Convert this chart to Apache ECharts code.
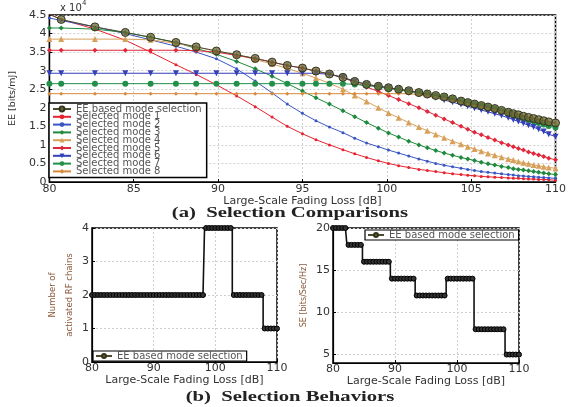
<!DOCTYPE html>
<html><head><meta charset="utf-8">
<script src="https://cdn.jsdelivr.net/npm/echarts@6/dist/echarts.min.js"></script>
<style>html,body{margin:0;padding:0;background:#fff}#c{width:569px;height:407px}</style>
</head><body><div id="c"></div>
<script>
// ---- Data (a) Selection Comparisons: EE [x10^4 bits/mJ] vs Large-Scale Fading Loss [dB]
const lossA = [80, 80.7, 82.7, 84.5, 86.0, 87.5, 88.7, 89.9, 91.1, 92.2, 93.2, 94.1, 95.0, 95.8, 96.6, 97.4, 98.1, 98.8, 99.5, 100.1, 100.7, 101.3, 101.9, 102.4, 102.9, 103.4, 103.9, 104.4, 104.8, 105.2, 105.6, 106.0, 106.4, 106.8, 107.2, 107.5, 107.8, 108.1, 108.4, 108.7, 109.0, 109.3, 109.6, 110.0];
const eeSel = [4.52, 4.38, 4.18, 4.03, 3.9, 3.76, 3.64, 3.53, 3.43, 3.33, 3.23, 3.14, 3.07, 2.99, 2.91, 2.82, 2.71, 2.63, 2.58, 2.54, 2.5, 2.46, 2.41, 2.37, 2.33, 2.29, 2.24, 2.18, 2.14, 2.1, 2.06, 2.02, 1.98, 1.93, 1.88, 1.84, 1.81, 1.77, 1.74, 1.71, 1.68, 1.65, 1.62, 1.59];
const mode1 = [4.52, 4.38, 4.12, 3.82, 3.5, 3.16, 2.9, 2.62, 2.32, 2.03, 1.75, 1.5, 1.3, 1.14, 1.0, 0.87, 0.76, 0.66, 0.57, 0.5, 0.44, 0.39, 0.34, 0.31, 0.28, 0.25, 0.22, 0.2, 0.18, 0.17, 0.15, 0.14, 0.13, 0.12, 0.11, 0.1, 0.1, 0.09, 0.08, 0.08, 0.07, 0.07, 0.06, 0.05];
const mode2 = [4.42, 4.35, 4.18, 4.0, 3.83, 3.66, 3.5, 3.32, 3.05, 2.72, 2.4, 2.1, 1.85, 1.65, 1.48, 1.33, 1.18, 1.05, 0.95, 0.86, 0.78, 0.7, 0.62, 0.56, 0.5, 0.45, 0.41, 0.37, 0.34, 0.31, 0.28, 0.26, 0.24, 0.22, 0.2, 0.19, 0.17, 0.16, 0.15, 0.14, 0.13, 0.12, 0.11, 0.1];
const mode3 = [4.15, 4.15, 4.12, 4.03, 3.9, 3.76, 3.6, 3.44, 3.25, 3.05, 2.85, 2.65, 2.45, 2.27, 2.1, 1.92, 1.76, 1.6, 1.45, 1.32, 1.21, 1.1, 1.0, 0.92, 0.85, 0.78, 0.72, 0.66, 0.62, 0.58, 0.53, 0.49, 0.46, 0.42, 0.39, 0.36, 0.34, 0.32, 0.3, 0.28, 0.26, 0.24, 0.22, 0.2];
const mode4 = [3.85, 3.85, 3.85, 3.85, 3.83, 3.74, 3.64, 3.53, 3.43, 3.3, 3.18, 3.06, 2.93, 2.8, 2.66, 2.5, 2.33, 2.17, 2.0, 1.86, 1.73, 1.6, 1.48, 1.38, 1.28, 1.19, 1.1, 1.02, 0.95, 0.89, 0.83, 0.77, 0.72, 0.67, 0.62, 0.59, 0.55, 0.52, 0.49, 0.46, 0.44, 0.41, 0.39, 0.37];
const mode5 = [3.55, 3.55, 3.55, 3.55, 3.55, 3.55, 3.54, 3.5, 3.41, 3.33, 3.23, 3.14, 3.07, 2.99, 2.91, 2.81, 2.69, 2.56, 2.44, 2.33, 2.22, 2.11, 2.0, 1.9, 1.8, 1.7, 1.6, 1.5, 1.42, 1.34, 1.27, 1.2, 1.13, 1.06, 1.0, 0.95, 0.9, 0.86, 0.81, 0.77, 0.73, 0.69, 0.64, 0.6];
const mode6 = [2.93, 2.93, 2.93, 2.93, 2.93, 2.93, 2.93, 2.93, 2.93, 2.93, 2.93, 2.93, 2.93, 2.93, 2.9, 2.82, 2.71, 2.63, 2.58, 2.54, 2.5, 2.46, 2.39, 2.33, 2.27, 2.21, 2.15, 2.09, 2.04, 1.99, 1.94, 1.89, 1.84, 1.79, 1.73, 1.68, 1.63, 1.58, 1.53, 1.48, 1.42, 1.36, 1.29, 1.22];
const mode7 = [2.65, 2.65, 2.65, 2.65, 2.65, 2.65, 2.65, 2.65, 2.65, 2.65, 2.65, 2.65, 2.65, 2.65, 2.65, 2.65, 2.63, 2.6, 2.56, 2.52, 2.48, 2.44, 2.41, 2.37, 2.33, 2.29, 2.24, 2.18, 2.14, 2.1, 2.06, 2.02, 1.98, 1.93, 1.88, 1.83, 1.78, 1.73, 1.68, 1.64, 1.59, 1.55, 1.51, 1.47];
const mode8 = [2.38, 2.38, 2.38, 2.38, 2.38, 2.38, 2.38, 2.38, 2.38, 2.38, 2.38, 2.38, 2.38, 2.38, 2.38, 2.38, 2.38, 2.38, 2.38, 2.38, 2.38, 2.38, 2.35, 2.32, 2.28, 2.24, 2.19, 2.14, 2.1, 2.06, 2.02, 1.98, 1.94, 1.9, 1.87, 1.84, 1.81, 1.77, 1.74, 1.71, 1.68, 1.65, 1.62, 1.59];
const eeTicks = [0, 0.5, 1, 1.5, 2, 2.5, 3, 3.5, 4, 4.5];

// ---- Data (b) Selection Behaviors
const lossB = [80, 80.5, 81, 81.5, 82, 82.5, 83, 83.5, 84, 84.5, 85, 85.5, 86, 86.5, 87, 87.5, 88, 88.5, 89, 89.5, 90, 90.5, 91, 91.5, 92, 92.5, 93, 93.5, 94, 94.5, 95, 95.5, 96, 96.5, 97, 97.5, 98, 98.5, 99, 99.5, 100, 100.5, 101, 101.5, 102, 102.5, 103, 103.5, 104, 104.5, 105, 105.5, 106, 106.5, 107, 107.5, 108, 108.5, 109, 109.5, 110];
const rfChains = [2, 2, 2, 2, 2, 2, 2, 2, 2, 2, 2, 2, 2, 2, 2, 2, 2, 2, 2, 2, 2, 2, 2, 2, 2, 2, 2, 2, 2, 2, 2, 2, 2, 2, 2, 2, 2, 4, 4, 4, 4, 4, 4, 4, 4, 4, 2, 2, 2, 2, 2, 2, 2, 2, 2, 2, 1, 1, 1, 1, 1];
const seVals = [20, 20, 20, 20, 20, 18, 18, 18, 18, 18, 16, 16, 16, 16, 16, 16, 16, 16, 16, 14, 14, 14, 14, 14, 14, 14, 14, 12, 12, 12, 12, 12, 12, 12, 12, 12, 12, 14, 14, 14, 14, 14, 14, 14, 14, 14, 8, 8, 8, 8, 8, 8, 8, 8, 8, 8, 5, 5, 5, 5, 5];
const seTicks = [5, 10, 15, 20];

const EE_NAME = 'EE based mode selection';
const modeNames = ['Selected mode 1','Selected mode 2','Selected mode 3','Selected mode 4','Selected mode 5','Selected mode 6','Selected mode 7','Selected mode 8'];
const modeData = [mode1, mode2, mode3, mode4, mode5, mode6, mode7, mode8];
const modeStyle = [
  {c:'#e8222e', s:'circle', z:3, r:0},
  {c:'#3a56c4', s:'circle', z:3, r:0},
  {c:'#1f8a3c', s:'diamond', z:5, r:0},
  {c:'#d7a15a', s:'triangle', z:6, r:0},
  {c:'#e0283a', s:'diamond', z:5, r:0},
  {c:'#3340b8', s:'triangle', z:6, r:180},
  {c:'#22904a', s:'circle', z:6, r:0},
  {c:'#d88a3c', s:'diamond', z:4, r:0}
];

const pair = (xs, ys) => xs.map((x, i) => [x, ys[i]]);
const sans = 'DejaVu Sans, Liberation Sans, sans-serif';
const serif = 'Liberation Serif, Times New Roman, serif';
const gridLine = {show:true, lineStyle:{color:'#cfcfcf', type:[2,2], width:1}};
const axLine = {show:true, onZero:false, lineStyle:{color:'#000', width:1.2}};
const axTick = {show:true, inside:true, length:3, lineStyle:{color:'#000'}};

const series = [];
modeData.forEach((d, k) => {
  const st = modeStyle[k];
  series.push({
    name: modeNames[k], type:'line', xAxisIndex:0, yAxisIndex:0,
    data: pair(lossA, d), symbol: st.s, symbolSize: st.z, symbolRotate: st.r,
    lineStyle:{color: st.c, width:1}, itemStyle:{color: st.c},
    showAllSymbol: true, animation:false, z: 2
  });
});
series.push({
  name: EE_NAME, type:'line', xAxisIndex:0, yAxisIndex:0,
  data: pair(lossA, eeSel), symbol:'circle', symbolSize:8, showAllSymbol:true,
  lineStyle:{color:'#4a4a30', width:1},
  itemStyle:{color:'rgba(105,105,55,0.75)', borderColor:'#34341e', borderWidth:1},
  animation:false, z: 3
});
series.push({
  name: EE_NAME, type:'line', xAxisIndex:1, yAxisIndex:1, step:'middle',
  data: pair(lossB, rfChains), symbol:'circle', symbolSize:5, showAllSymbol:true,
  lineStyle:{color:'#111', width:1.6}, itemStyle:{color:'#333', borderColor:'#000', borderWidth:1},
  animation:false
});
series.push({
  name: EE_NAME, type:'line', xAxisIndex:2, yAxisIndex:2, step:'middle',
  data: pair(lossB, seVals), symbol:'circle', symbolSize:5, showAllSymbol:true,
  lineStyle:{color:'#111', width:1.6}, itemStyle:{color:'#333', borderColor:'#000', borderWidth:1},
  animation:false
});

const option = {
  backgroundColor:'#fff',
  animation:false,
  grid:[
    {left:48, top:15, width:515, height:167, show:true, borderColor:'#000', borderWidth:1.5, backgroundColor:'#fff'},
    {left:92, top:228, width:185, height:134, show:true, borderColor:'#000', borderWidth:1.5, backgroundColor:'#fff'},
    {left:333, top:228, width:186, height:135, show:true, borderColor:'#000', borderWidth:1.5, backgroundColor:'#fff'}
  ],
  xAxis:[
    {gridIndex:0, type:'value', min:80, max:110, interval:5, axisLine:axLine, axisTick:axTick, splitLine:gridLine,
     axisLabel:{color:'#333', fontSize:11, fontFamily:sans, margin:2},
     name:'Large-Scale Fading Loss [dB]', nameLocation:'middle', nameGap:10,
     nameTextStyle:{color:'#333', fontSize:11, fontFamily:sans}},
    {gridIndex:1, type:'value', min:80, max:110, interval:10, axisLine:axLine, axisTick:axTick, splitLine:gridLine,
     axisLabel:{color:'#333', fontSize:11, fontFamily:sans, margin:1},
     name:'Large-Scale Fading Loss [dB]', nameLocation:'middle', nameGap:9,
     nameTextStyle:{color:'#333', fontSize:11, fontFamily:sans}},
    {gridIndex:2, type:'value', min:80, max:110, interval:10, axisLine:axLine, axisTick:axTick, splitLine:gridLine,
     axisLabel:{color:'#333', fontSize:11, fontFamily:sans, margin:1},
     name:'Large-Scale Fading Loss [dB]', nameLocation:'middle', nameGap:9,
     nameTextStyle:{color:'#333', fontSize:11, fontFamily:sans}}
  ],
  yAxis:[
    {gridIndex:0, type:'value', min:eeTicks[0], max:eeTicks[eeTicks.length-1], interval:0.5, axisLine:axLine, axisTick:axTick, splitLine:gridLine,
     axisLabel:{color:'#333', fontSize:11, fontFamily:sans, margin:3},
     name:'EE [bits/mJ]', nameLocation:'middle', nameGap:26,
     nameTextStyle:{color:'#333', fontSize:9.5, fontFamily:sans}},
    {gridIndex:1, type:'value', min:0, max:4, interval:1, axisLine:axLine, axisTick:axTick, splitLine:gridLine,
     axisLabel:{color:'#333', fontSize:11, fontFamily:sans, margin:3},
     name:'Number of\nactivated RF chains', nameLocation:'middle', nameGap:14,
     nameTextStyle:{color:'#8a5a3c', fontSize:8.5, fontFamily:sans, lineHeight:17, padding:[0,0,0,0], verticalAlign:'bottom'}},
    {gridIndex:2, type:'value', min:4, max:20, axisLine:axLine,
     axisTick:Object.assign({}, axTick, {customValues:seTicks}), splitLine:gridLine,
     axisLabel:{color:'#333', fontSize:11, fontFamily:sans, margin:3, customValues:seTicks},
     name:'SE [bits/Sec/Hz]', nameLocation:'middle', nameGap:25,
     nameTextStyle:{color:'#8a5a3c', fontSize:8, fontFamily:sans}}
  ],
  legend:[
    {left:49, top:103, orient:'vertical', data:[EE_NAME].concat(modeNames),
     itemWidth:18, itemHeight:6, itemGap:-2.2, padding:[1,5,1,3],
     backgroundColor:'#fff', borderColor:'#000', borderWidth:1.5, selectedMode:false,
     textStyle:{fontSize:10, color:'#555', fontFamily:sans, lineHeight:9}},
    {left:93, top:351, orient:'vertical', data:[EE_NAME],
     itemWidth:16, itemHeight:5, itemGap:0, padding:[0,4,0,2],
     backgroundColor:'#fff', borderColor:'#000', borderWidth:1.2, selectedMode:false,
     textStyle:{fontSize:10, color:'#555', fontFamily:sans, lineHeight:9}},
    {left:365, top:230, orient:'vertical', data:[EE_NAME],
     itemWidth:16, itemHeight:5, itemGap:0, padding:[0,4,0,2],
     backgroundColor:'#fff', borderColor:'#000', borderWidth:1.2, selectedMode:false,
     textStyle:{fontSize:10, color:'#555', fontFamily:sans, lineHeight:9}}
  ],
  graphic:[
    {type:'text', left:60, top:3, style:{text:'x 10', fontSize:10, fill:'#333', fontFamily:sans}},
    {type:'text', left:82, top:0, style:{text:'4', fontSize:7, fill:'#333', fontFamily:sans}},
    {type:'text', x:290, y:213, scaleX:1.38, style:{text:'(a)  Selection Comparisons', fontSize:15, fontWeight:'bold', fill:'#222', fontFamily:serif, align:'center', verticalAlign:'middle'}},
    {type:'text', x:290, y:397, scaleX:1.38, style:{text:'(b)  Selection Behaviors', fontSize:15, fontWeight:'bold', fill:'#222', fontFamily:serif, align:'center', verticalAlign:'middle'}}
  ],
  series: series
};
const chart = echarts.init(document.getElementById('c'), null, {renderer:'canvas'});
chart.setOption(option);
</script></body></html>
